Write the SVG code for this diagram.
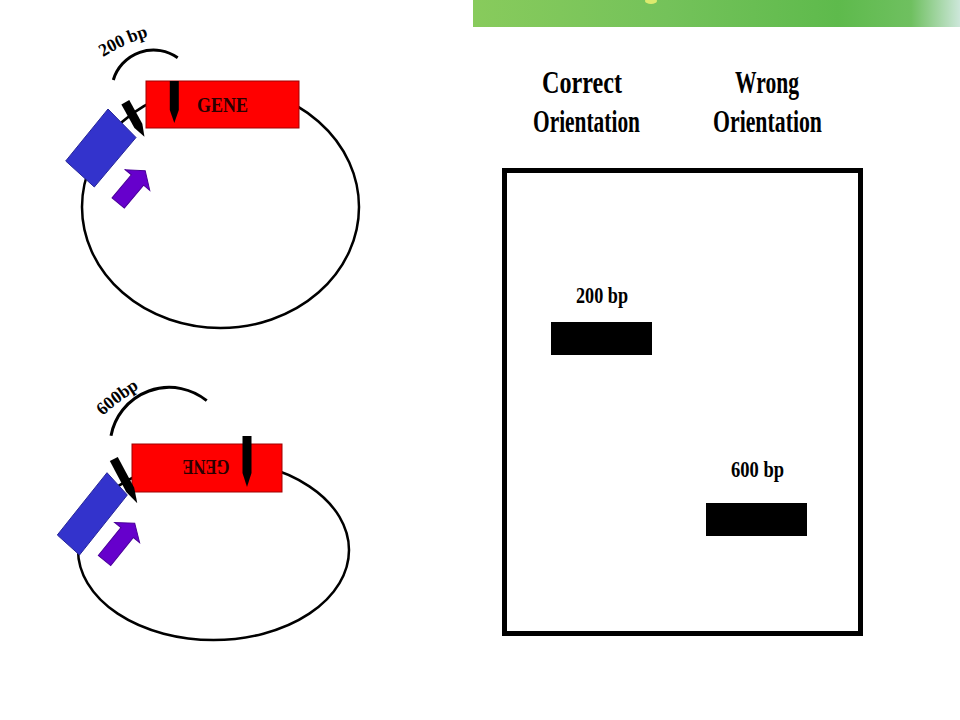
<svg xmlns="http://www.w3.org/2000/svg" width="960" height="720" viewBox="0 0 960 720">
<defs>
<linearGradient id="banner" x1="0" y1="0" x2="1" y2="0">
<stop offset="0" stop-color="#88cb5c"/>
<stop offset="0.4" stop-color="#74c25a"/>
<stop offset="0.75" stop-color="#5eba4c"/>
<stop offset="0.9" stop-color="#6fc060"/>
<stop offset="1" stop-color="#cde7da"/>
</linearGradient>
<style>
.ring{fill:none;stroke:#000;stroke-width:2.5}
.arc{fill:none;stroke:#000;stroke-width:3}
.gene{fill:#ff0000;stroke:#a00000;stroke-width:1}
.prom{fill:#3333cc;stroke:#262699;stroke-width:1}
.arrow{fill:#6600cc;stroke:#4a0099;stroke-width:1}
.pin{fill:#000}
.t{font-family:"Liberation Serif","Times New Roman",serif;font-weight:bold;fill:#000}
.gt{font-family:"Liberation Serif","Times New Roman",serif;font-weight:bold;fill:#2a0000;font-size:20px}
.band{fill:#000}
</style>
</defs>
<rect width="960" height="720" fill="#fff"/>
<g id="banner">
<rect x="473" y="0" width="487" height="27" fill="url(#banner)"/>
<ellipse cx="651" cy="1" rx="6" ry="3" fill="#e8ee70" opacity="0.9"/>
</g>

<g id="plasmid-correct">
<ellipse class="ring" cx="220.5" cy="207" rx="138.5" ry="121"/>
<path class="arc" d="M113.3 80 A42 42 0 0 1 177.7 57.7"/>
<path id="p200" d="M103 57 Q126 43 153 35" fill="none"/>
<text class="t" font-size="18"><textPath href="#p200" textLength="50" lengthAdjust="spacingAndGlyphs">200 bp</textPath></text>
<polygon class="prom" points="108,109 136,137.5 94.3,187 65.7,161"/>
<rect class="gene" x="146" y="81" width="153" height="47"/>
<text class="gt" x="222.5" y="112" text-anchor="middle" textLength="51" lengthAdjust="spacingAndGlyphs">GENE</text>
<path class="pin" transform="translate(174.3,81)" d="M-4.5 0 H4.5 V29 L0 42 L-4.5 29 Z"/>
<path class="pin" transform="translate(125.3,102.2) rotate(-29)" d="M-4.5 0 H4.5 V27 L0 39.5 L-4.5 27 Z"/>
<polygon class="arrow" transform="translate(118.2,203) rotate(-50)" points="0,-8 30,-8 30,-16 42,0 30,16 30,8 0,8"/>
</g>

<g id="plasmid-wrong">
<ellipse class="ring" cx="213.5" cy="550" rx="135.5" ry="90"/>
<path class="arc" d="M111 435.7 A59.3 59.3 0 0 1 206.7 400.7"/>
<path id="p600" d="M103 416 Q120 400 143 386" fill="none"/>
<text class="t" font-size="18"><textPath href="#p600" textLength="46" lengthAdjust="spacingAndGlyphs">600bp</textPath></text>
<polygon class="prom" points="107,472.7 127.3,495 79.5,555 57.3,535"/>
<rect class="gene" x="132" y="444" width="150" height="48"/>
<text class="gt" x="206" y="474" text-anchor="middle" textLength="47" lengthAdjust="spacingAndGlyphs" transform="rotate(180 206 467)">GENE</text>
<path class="pin" transform="translate(247,436)" d="M-4.5 0 H4.5 V37 L0 51 L-4.5 37 Z"/>
<path class="pin" transform="translate(113.8,459) rotate(-28)" d="M-4.5 0 H4.5 V35 L0 50 L-4.5 35 Z"/>
<polygon class="arrow" transform="translate(104.5,560.5) rotate(-51)" points="0,-8 36,-8 36,-16 48,0 36,16 36,8 0,8"/>
</g>

<g id="headings">
<text class="t" font-size="31" x="542" y="93" textLength="80" lengthAdjust="spacingAndGlyphs">Correct</text>
<text class="t" font-size="31" x="533" y="132" textLength="107" lengthAdjust="spacingAndGlyphs">Orientation</text>
<text class="t" font-size="31" x="735" y="93" textLength="64" lengthAdjust="spacingAndGlyphs">Wrong</text>
<text class="t" font-size="31" x="713" y="132" textLength="109" lengthAdjust="spacingAndGlyphs">Orientation</text>
</g>

<g id="gel">
<rect x="504.5" y="170.5" width="356" height="463" fill="none" stroke="#000" stroke-width="5"/>
</g>
<g id="band-200">
<text class="t" font-size="24" x="576" y="303" textLength="52" lengthAdjust="spacingAndGlyphs">200 bp</text>
<rect class="band" x="551" y="322" width="101" height="33"/>
</g>
<g id="band-600">
<text class="t" font-size="23" x="731" y="477" textLength="53" lengthAdjust="spacingAndGlyphs">600 bp</text>
<rect class="band" x="706" y="503" width="101" height="33"/>
</g>
<g id="connectors"></g>
</svg>
